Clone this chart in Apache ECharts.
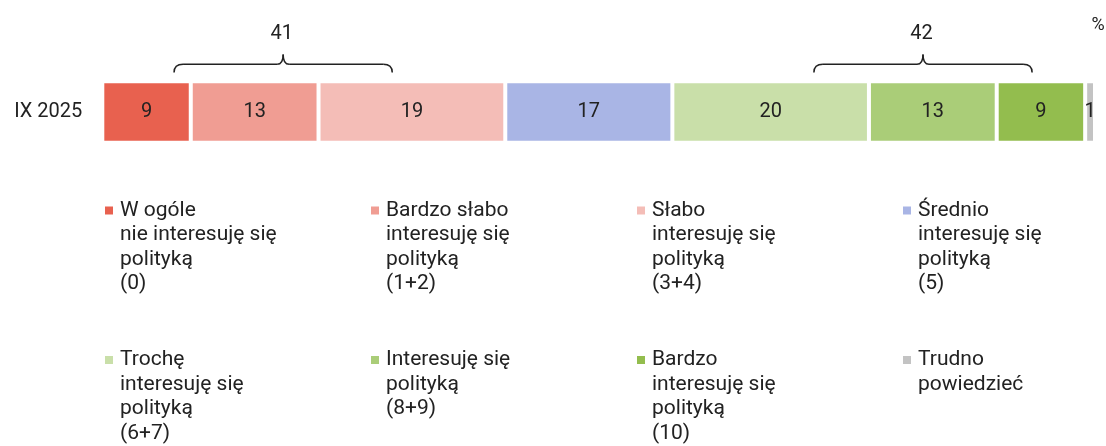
<!DOCTYPE html>
<html>
<head>
<meta charset="utf-8">
<script src="https://cdn.jsdelivr.net/npm/echarts@6/dist/echarts.min.js"></script>
<style>
  html, body { margin: 0; padding: 0; background: #fff; }
  #chart { width: 1106px; height: 446px; }
</style>
</head>
<body>
<div id="chart"></div>
<script>
// dane z wykresu (IX 2025, %)
const categories = ['IX 2025']
const seriesNames = [
  'W ogóle\nnie interesuję się\npolityką\n(0)',
  'Bardzo słabo\ninteresuję się\npolityką\n(1+2)',
  'Słabo\ninteresuję się\npolityką\n(3+4)',
  'Średnio\ninteresuję się\npolityką\n(5)',
  'Trochę\ninteresuję się\npolityką\n(6+7)',
  'Interesuję się\npolityką\n(8+9)',
  'Bardzo\ninteresuję się\npolityką\n(10)',
  'Trudno\npowiedzieć',
]
const values = [9, 13, 19, 17, 20, 13, 9, 1]
const colors = ['#e8614f', '#f09d93', '#f4bdb7', '#a9b5e5', '#c9dfa9', '#aacd78', '#93bd4e', '#c3c3c3']

// klamry: zakres na osi wartości + suma
const braceRanges = [[7.3, 29.5], [72.4, 94.6]]
const braceLabels = ['41', '42']

const FONT = 'Roboto'
const TEXT = '#222'
const LEGEND_LH = 24.5
const legendCols = [103, 369, 635, 901]
const legendRows = [210.5, 360]

const chart = echarts.init(document.getElementById('chart'))

const series = values.map((v, i) => ({
  name: seriesNames[i],
  type: 'bar',
  stack: 'total',
  barWidth: 61.4,
  data: [v],
  itemStyle: { color: colors[i], borderColor: '#fff', borderWidth: 2 },
  label: {
    show: true,
    position: 'inside',
    fontFamily: FONT,
    fontSize: 20,
    color: TEXT,
  },
  emphasis: { disabled: true },
}))

// osobna legenda dla każdej pozycji, żeby kolumny były równe
const legends = seriesNames.map((name, i) => {
  const n = name.split('\n').length
  const h = (2 * n - 1) * LEGEND_LH
  return {
    data: [name],
    left: legendCols[i % 4],
    top: legendRows[Math.floor(i / 4)] - h / 2,
    padding: 0,
    icon: 'rect',
    itemWidth: 10,
    itemHeight: 10,
    selectedMode: false,
    formatter: (nm) => '\n'.repeat(n - 1) + nm,
    textStyle: {
      fontFamily: FONT,
      fontSize: 21,
      color: TEXT,
      lineHeight: LEGEND_LH,
      padding: [0, 0, 0, 1],
    },
  }
})

chart.setOption({
  animation: false,
  textStyle: { fontFamily: FONT },
  grid: { left: 102.3, right: 11, top: 81, height: 62, containLabel: false },
  xAxis: { type: 'value', min: 0, max: 101, show: false },
  yAxis: {
    type: 'category',
    data: categories,
    axisLine: { show: false },
    axisTick: { show: false },
    axisLabel: { fontFamily: FONT, fontSize: 20, color: TEXT, margin: 20 },
  },
  legend: legends,
  series,
})

const buildBraces = () => {
  const yTop = 64.3
  const yEnd = 72.5
  const yPeak = 54.5
  const stroke = { stroke: TEXT, lineWidth: 1.5, fill: 'none' }
  const elements = []
  const curve = (x1, y1, cx, cy, x2, y2) => ({
    type: 'bezierCurve',
    shape: { x1, y1, cpx1: cx, cpy1: cy, x2, y2 },
    style: stroke,
    silent: true,
  })
  const line = (x1, y1, x2, y2) => ({
    type: 'line',
    shape: { x1, y1, x2, y2 },
    style: stroke,
    silent: true,
  })
  braceRanges.forEach(([a, b], i) => {
    const x0 = chart.convertToPixel({ xAxisIndex: 0 }, a)
    const x1 = chart.convertToPixel({ xAxisIndex: 0 }, b)
    const xc = (x0 + x1) / 2
    elements.push(curve(x0, yEnd, x0, yTop, x0 + 9, yTop))
    elements.push(line(x0 + 9, yTop, xc - 6, yTop))
    elements.push(curve(xc - 6, yTop, xc, yTop, xc, yPeak))
    elements.push(curve(xc, yPeak, xc, yTop, xc + 6, yTop))
    elements.push(line(xc + 6, yTop, x1 - 9, yTop))
    elements.push(curve(x1 - 9, yTop, x1, yTop, x1, yEnd))
    elements.push({
      type: 'text',
      x: xc - 1.5,
      y: 34,
      style: {
        text: braceLabels[i],
        fontFamily: FONT,
        fontSize: 20,
        fill: TEXT,
        align: 'center',
        verticalAlign: 'middle',
      },
      silent: true,
    })
  })
  elements.push({
    type: 'text',
    x: 1098,
    y: 25,
    style: {
      text: '%',
      fontFamily: FONT,
      fontSize: 18,
      fill: TEXT,
      align: 'center',
      verticalAlign: 'middle',
    },
    silent: true,
  })
  return elements
}

chart.setOption({ graphic: { elements: buildBraces() } })
</script>
</body>
</html>
